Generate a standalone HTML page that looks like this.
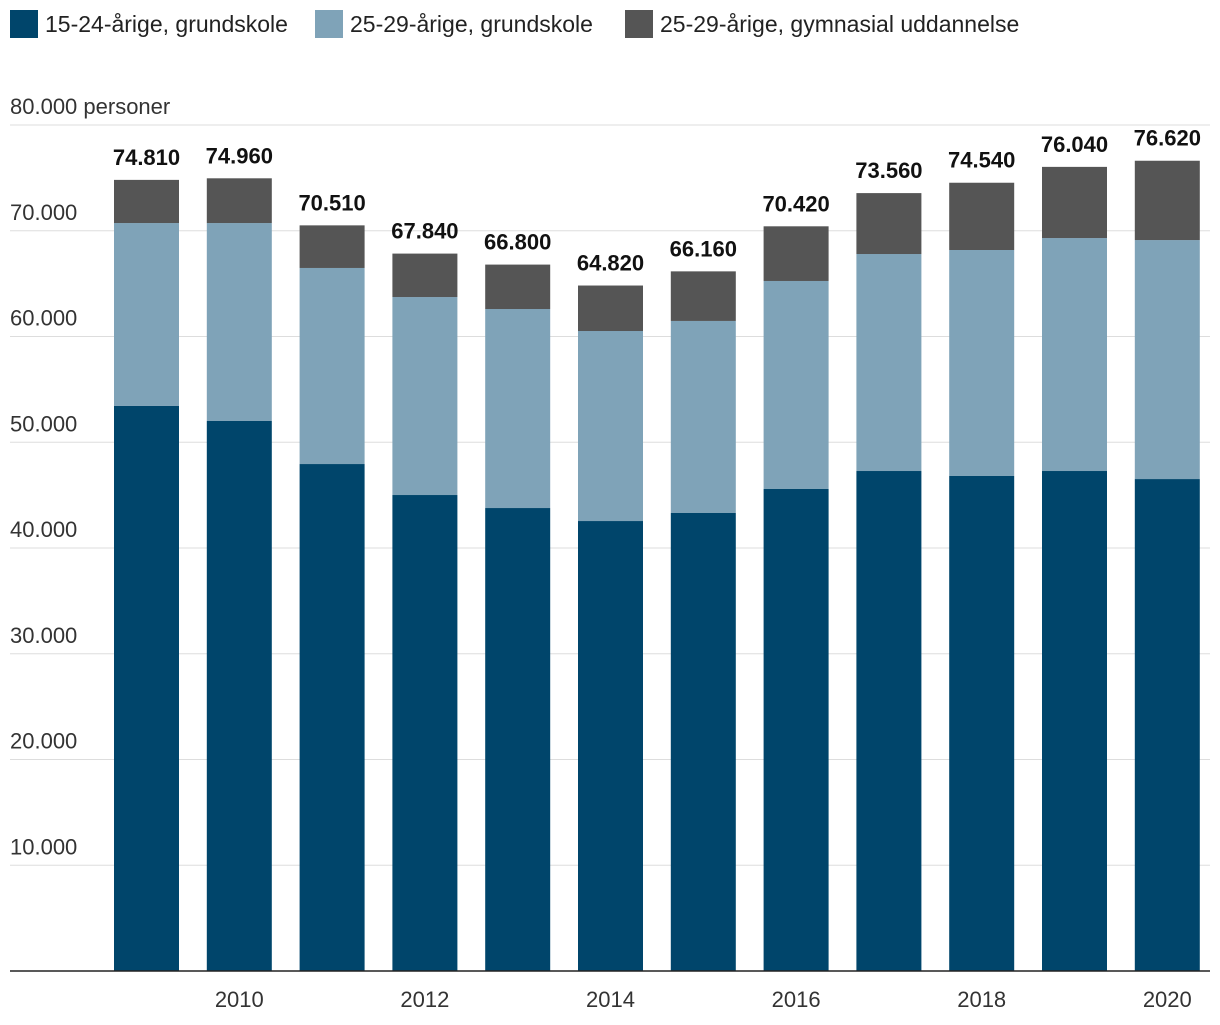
<!DOCTYPE html>
<html><head><meta charset="utf-8"><style>
body{margin:0;background:#fff;width:1220px;height:1020px;overflow:hidden;font-family:"Liberation Sans",sans-serif}
svg text{font-family:"Liberation Sans",sans-serif}
</style></head><body>
<svg id="chart" width="1220" height="1020">
<g>
<rect x="10" y="10" width="28" height="28" fill="#00456b"/>
<text x="45" y="32" font-size="23" fill="#222">15-24-årige, grundskole</text>
<rect x="315" y="10" width="28" height="28" fill="#7fa3b8"/>
<text x="350" y="32" font-size="23" fill="#222">25-29-årige, grundskole</text>
<rect x="625" y="10" width="28" height="28" fill="#555555"/>
<text x="660" y="32" font-size="23" fill="#222">25-29-årige, gymnasial uddannelse</text>
</g>
<g id="grid"></g><g id="bars"></g><g id="labels"></g>
</svg>
<script>
const years=[2009,2010,2011,2012,2013,2014,2015,2016,2017,2018,2019,2020];
const s1=[53430,52010,47940,45010,43780,42550,43310,45580,47280,46810,47280,46520];
const s2=[17300,18720,18540,18720,18820,17970,18160,19670,20520,21370,22030,22600];
const s3=[4080,4230,4030,4110,4200,4300,4690,5170,5760,6360,6730,7500];
const totalLabels=["74.810","74.960","70.510","67.840","66.800","64.820","66.160","70.420","73.560","74.540","76.040","76.620"];
const yTicks=[10000,20000,30000,40000,50000,60000,70000,80000];
const yTickLabels=["10.000","20.000","30.000","40.000","50.000","60.000","70.000","80.000 personer"];
const xTickLabels=["","2010","","2012","","2014","","2016","","2018","","2020"];
const NS="http://www.w3.org/2000/svg";
const y0=971,pxPer=105.75/10000;
const Y=v=>y0-v*pxPer;
const X=i=>114+i*92.8;
const bw=65;
function mk(t,a,p){const e=document.createElementNS(NS,t);for(const k in a)e.setAttribute(k,a[k]);p.appendChild(e);return e;}
const grid=document.getElementById('grid'),bars=document.getElementById('bars'),labels=document.getElementById('labels');
yTicks.forEach((v,i)=>{
 const l=mk('line',{x1:10,x2:1210,y1:Y(v),y2:Y(v),stroke:'#dddddd','stroke-width':1},grid);
 
 
 const t=mk('text',{x:10,y:Y(v)-11,'font-size':22,fill:'#333'},grid);
 t.textContent=yTickLabels[i];
 
 
});
const colors=['#00456b','#7fa3b8','#555555'];
years.forEach((yr,i)=>{
 let base=0;
 [s1,s2,s3].forEach((s,j)=>{
  const r=mk('rect',{x:X(i),y:Y(base+s[i]),width:bw,height:s[i]*pxPer,fill:colors[j]},bars);
  
  
  base+=s[i];
 });
 const t=mk('text',{x:X(i)+bw/2,y:Y(base)-15,'font-size':22,'font-weight':'bold','text-anchor':'middle',fill:'#111'},labels);
 t.textContent=totalLabels[i];
 
 
 if(xTickLabels[i]){
  const xt=mk('text',{x:X(i)+bw/2,y:1007,'font-size':22,'text-anchor':'middle',fill:'#333'},labels);
  xt.textContent=xTickLabels[i];
  
  
 }
});
const ax=mk('line',{x1:10,x2:1210,y1:y0,y2:y0,stroke:'#222','stroke-width':1.5},labels);


</script>
</body></html>
